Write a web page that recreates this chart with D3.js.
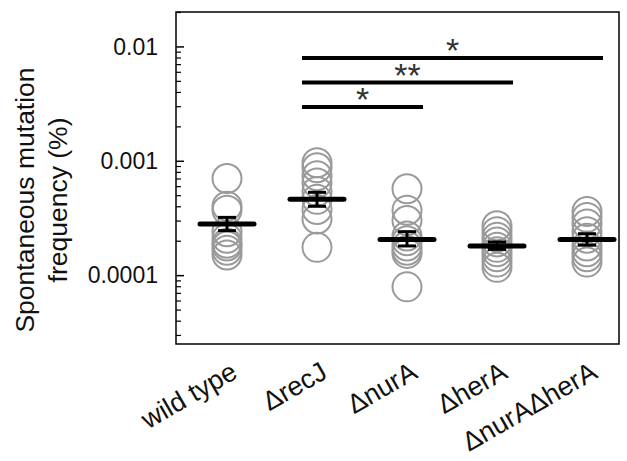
<!DOCTYPE html>
<html>
<head>
<meta charset="utf-8">
<script src="https://cdn.jsdelivr.net/npm/d3@7/dist/d3.min.js"></script>
<style>
  html, body { margin: 0; padding: 0; background: #fff; }
  svg { display: block; font-family: "Liberation Sans", Arial, sans-serif; }
</style>
</head>
<body>
<svg id="chart" width="627" height="461"></svg>
<script>
// Strains on the x axis
const categories = ["wild type", "\u0394recJ", "\u0394nurA", "\u0394herA", "\u0394nurA\u0394herA"];

// Spontaneous mutation frequency (%) of each independent culture
const wildType = [7.0e-4, 4.0e-4, 3.7e-4, 2.4e-4, 2.1e-4, 1.9e-4, 1.8e-4, 1.65e-4, 1.5e-4];
const recJ     = [9.6e-4, 8.7e-4, 7.4e-4, 6.4e-4, 5.4e-4, 4.6e-4, 3.75e-4, 3.1e-4, 1.75e-4];
const nurA     = [5.7e-4, 3.7e-4, 3.0e-4, 2.2e-4, 2.0e-4, 1.8e-4, 1.65e-4, 1.55e-4, 7.9e-5];
const herA     = [2.7e-4, 2.4e-4, 2.15e-4, 1.95e-4, 1.75e-4, 1.6e-4, 1.45e-4, 1.3e-4, 1.17e-4];
const nurAherA = [3.6e-4, 3.2e-4, 2.8e-4, 2.4e-4, 2.1e-4, 1.8e-4, 1.6e-4, 1.45e-4, 1.3e-4];

// Mean and error-bar limits per strain
const means   = [2.8e-4, 4.6e-4, 2.05e-4, 1.8e-4, 2.05e-4];
const errHigh = [3.2e-4, 5.3e-4, 2.4e-4, 1.95e-4, 2.3e-4];
const errLow  = [2.45e-4, 4.0e-4, 1.8e-4, 1.68e-4, 1.83e-4];

// Pairwise significance brackets (indices into categories)
const sigFrom  = [1, 1, 1];
const sigTo    = [2, 3, 4];
const sigLabel = ["*", "**", "*"];

// Y axis labelled ticks
const yTickValues = [0.0001, 0.001, 0.01];
const yTickLabels = ["0.0001", "0.001", "0.01"];

const series = [wildType, recJ, nurA, herA, nurAherA];

const svg = d3.select("#chart");
const frame = { left: 176, right: 619, top: 12, bottom: 344 };

const x = d3.scalePoint()
  .domain(categories)
  .range([227, 587]);

const y = d3.scaleLog()
  .domain([2.5e-5, 0.02])
  .range([frame.bottom, frame.top]);

// Frame
svg.append("rect")
  .attr("x", frame.left).attr("y", frame.top)
  .attr("width", frame.right - frame.left)
  .attr("height", frame.bottom - frame.top)
  .attr("fill", "none")
  .attr("stroke", "#000")
  .attr("stroke-width", 1.5);

// Minor ticks at 2..9 x each decade, major at decades, pointing inward
const minorTicks = [];
for (let e = -5; e <= -2; e++) {
  for (let m = 1; m <= 9; m++) {
    const v = m * Math.pow(10, e);
    if (v >= y.domain()[0] && v <= y.domain()[1]) minorTicks.push(v);
  }
}
const yAxis = d3.axisRight(y)
  .tickValues(minorTicks)
  .tickSize(5)
  .tickFormat("");
const gy = svg.append("g")
  .attr("transform", `translate(${frame.left},0)`)
  .call(yAxis);
gy.select(".domain").remove();
gy.selectAll(".tick line").attr("stroke", "#000").attr("stroke-width", 1.2);
gy.selectAll(".tick")
  .filter(d => yTickValues.some(t => Math.abs(t - d) / t < 1e-6))
  .select("line").attr("x2", 8).attr("stroke-width", 1.5);

// Tick labels
svg.append("g").selectAll("text")
  .data(yTickValues)
  .join("text")
  .attr("x", 158)
  .attr("y", d => y(d))
  .attr("dy", "0.36em")
  .attr("text-anchor", "end")
  .attr("font-size", 23)
  .attr("fill", "#111")
  .text((d, i) => yTickLabels[i]);

// Y axis title
const yTitle = svg.append("text")
  .attr("transform", "translate(0,200) rotate(-90)")
  .attr("text-anchor", "middle")
  .attr("font-size", 26.5)
  .attr("fill", "#111");
yTitle.append("tspan").attr("x", 0).attr("y", 34).text("Spontaneous mutation");
yTitle.append("tspan").attr("x", 0).attr("y", 67).text("frequency (%)");

// Individual cultures
const points = series.flatMap((vals, i) => vals.map(v => ({ cat: categories[i], v })));
svg.append("g").selectAll("circle")
  .data(points)
  .join("circle")
  .attr("cx", d => x(d.cat))
  .attr("cy", d => y(d.v))
  .attr("r", 14.5)
  .attr("fill", "none")
  .attr("stroke", "#9a9a9a")
  .attr("stroke-width", 2);

// Means with error bars
const summary = categories.map((c, i) => ({ c, m: means[i], hi: errHigh[i], lo: errLow[i] }));
const gs = svg.append("g").attr("stroke", "#000");
gs.selectAll(".mean").data(summary).join("line")
  .attr("x1", d => x(d.c) - 27).attr("x2", d => x(d.c) + 27)
  .attr("y1", d => y(d.m)).attr("y2", d => y(d.m))
  .attr("stroke-width", 5).attr("stroke-linecap", "round");
gs.selectAll(".stem").data(summary).join("line")
  .attr("x1", d => x(d.c)).attr("x2", d => x(d.c))
  .attr("y1", d => y(d.hi)).attr("y2", d => y(d.lo))
  .attr("stroke-width", 3);
gs.selectAll(".capHi").data(summary).join("line")
  .attr("x1", d => x(d.c) - 9).attr("x2", d => x(d.c) + 9)
  .attr("y1", d => y(d.hi)).attr("y2", d => y(d.hi))
  .attr("stroke-width", 3);
gs.selectAll(".capLo").data(summary).join("line")
  .attr("x1", d => x(d.c) - 9).attr("x2", d => x(d.c) + 9)
  .attr("y1", d => y(d.lo)).attr("y2", d => y(d.lo))
  .attr("stroke-width", 3);

// Significance brackets, stacked upward
const sig = sigFrom.map((f, i) => ({ from: categories[f], to: categories[sigTo[i]], label: sigLabel[i], row: i }));
const rowY = r => 107 - r * 24.5;
const gsig = svg.append("g");
gsig.selectAll("line").data(sig).join("line")
  .attr("x1", d => x(d.from) - 15).attr("x2", d => x(d.to) + 16)
  .attr("y1", d => rowY(d.row)).attr("y2", d => rowY(d.row))
  .attr("stroke", "#000").attr("stroke-width", 4);
gsig.selectAll("text").data(sig).join("text")
  .attr("x", d => (x(d.from) - 15 + x(d.to) + 16) / 2)
  .attr("y", d => rowY(d.row) + 4)
  .attr("text-anchor", "middle")
  .attr("font-size", 34)
  .attr("fill", "#333")
  .text(d => d.label);

// Category labels, rotated
svg.append("g").selectAll("text")
  .data(categories)
  .join("text")
  .attr("transform", d => `translate(${x(d) + 12},377) rotate(-30)`)
  .attr("text-anchor", "end")
  .attr("font-size", 27)
  .attr("fill", "#111")
  .text(d => d);
</script>
</body>
</html>
